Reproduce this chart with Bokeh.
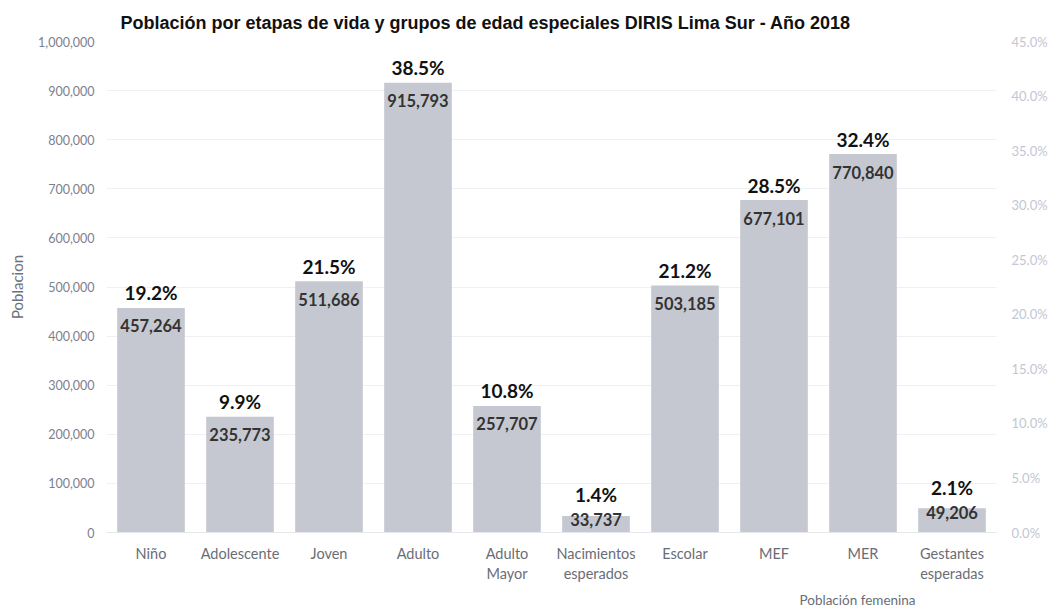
from bokeh.plotting import figure
from bokeh.models import (ColumnDataSource, Range1d, LinearAxis,
                          NumeralTickFormatter, FixedTicker, Title)
from bokeh.embed import file_html
from bokeh.resources import INLINE
from bokeh.core.properties import value

categories = ["Niño", "Adolescente", "Joven", "Adulto", "Adulto Mayor",
              "Nacimientos esperados", "Escolar", "MEF", "MER", "Gestantes esperadas"]
poblacion = [457264, 235773, 511686, 915793, 257707, 33737, 503185, 677101, 770840, 49206]
porcentaje = [19.2, 9.9, 21.5, 38.5, 10.8, 1.4, 21.2, 28.5, 32.4, 2.1]
left_ticks = [0, 100000, 200000, 300000, 400000, 500000, 600000, 700000, 800000, 900000, 1000000]
right_ticks = [0.0, 0.05, 0.10, 0.15, 0.20, 0.25, 0.30, 0.35, 0.40, 0.45]
title = "Población por etapas de vida y grupos de edad especiales DIRIS Lima Sur - Año 2018"
y_label = "Poblacion"
group_label = "Población femenina"

FONT = "Lato"
n = len(categories)
idx = list(range(n))

src = ColumnDataSource(dict(
    x=idx,
    v=poblacion,
    vtxt=[f"{x:,}" for x in poblacion],
    ptxt=[f"{x:.1f}%" for x in porcentaje],
    voff=[18 if x > 100000 else 4 for x in poblacion],
    poff=[-15 if x > 100000 else -21 for x in poblacion],
))

W, H = 1051, 612
p = figure(x_range=Range1d(-0.5, n - 0.5), y_range=Range1d(0, 1000000), width=W, height=H,
           output_backend="svg", toolbar_location=None,
           min_border_left=106, min_border_right=55, min_border_top=41, min_border_bottom=80)
p.outline_line_color = None
p.background_fill_color = "white"

p.vbar(x="x", top="v", width=0.76, source=src, fill_color="#c6c8d1", line_color=None)

p.text(x="x", y="v", text="vtxt", source=src, y_offset="voff",
       text_align="center", text_baseline="middle",
       text_font=value(FONT), text_font_style="bold", text_font_size="16.5px", text_color="#333333")
p.text(x="x", y="v", text="ptxt", source=src, y_offset="poff",
       text_align="center", text_baseline="middle",
       text_font=value(FONT), text_font_style="bold", text_font_size="19px", text_color="#111111")

# left axis
ax = p.yaxis[0]
ax.ticker = FixedTicker(ticks=left_ticks)
ax.formatter = NumeralTickFormatter(format="0,0")
ax.axis_line_color = None
ax.major_tick_line_color = None
ax.minor_tick_line_color = None
ax.major_tick_out = 0
ax.minor_tick_out = 0
ax.major_label_text_font = FONT
ax.major_label_text_font_size = "12.5px"
ax.major_label_text_color = "#7d808c"
ax.major_label_standoff = 12
ax.axis_label = y_label
ax.axis_label_text_font = FONT
ax.axis_label_text_font_style = "normal"
ax.axis_label_text_font_size = "15px"
ax.axis_label_text_color = "#6d707a"
ax.axis_label_standoff = 9

# right axis
p.extra_y_ranges = {"pct": Range1d(0, 0.45)}
rax = LinearAxis(y_range_name="pct", ticker=FixedTicker(ticks=right_ticks),
                 formatter=NumeralTickFormatter(format="0.0%"))
rax.axis_line_color = None
rax.major_tick_line_color = None
rax.minor_tick_line_color = None
rax.major_tick_out = 0
rax.minor_tick_out = 0
rax.major_label_text_font = FONT
rax.major_label_text_font_size = "13px"
rax.major_label_text_color = "#c3c6d3"
rax.major_label_standoff = 15
p.add_layout(rax, "right")

# x axis: first line of each category
xa = p.xaxis[0]
xa.ticker = FixedTicker(ticks=idx)
xa.axis_line_color = "#e6e7ea"
xa.major_tick_line_color = None
xa.minor_tick_line_color = None
xa.major_tick_out = 0
xa.minor_tick_out = 0
xa.major_label_text_font = FONT
xa.major_label_text_font_size = "14.5px"
xa.major_label_text_color = "#6a6d76"
xa.major_label_standoff = 12
xa.major_label_overrides = {i: c.split(" ")[0] for i, c in zip(idx, categories)}

# second line of each two-word category
xa2 = LinearAxis(ticker=FixedTicker(ticks=idx))
xa2.axis_line_color = None
xa2.major_tick_line_color = None
xa2.minor_tick_line_color = None
xa2.major_tick_out = 0
xa2.minor_tick_out = 0
xa2.major_label_text_font = FONT
xa2.major_label_text_font_size = "14.5px"
xa2.major_label_text_color = "#6a6d76"
xa2.major_label_standoff = 0
xa2.major_label_overrides = {i: (c.split(" ")[1] if " " in c else " ") for i, c in zip(idx, categories)}
p.add_layout(xa2, "below")

p.xgrid.grid_line_color = None
p.ygrid.grid_line_color = "#eef0f3"

p.title.text = title
p.title.text_font = "Liberation Sans"
p.title.text_font_style = "bold"
p.title.text_font_size = "18px"
p.title.text_color = "#111111"
p.title.align = "left"
p.title.offset = 14
p.title.standoff = 18

sub = Title(text=group_label, align="left", offset=693, text_font=FONT,
            text_font_style="normal", text_font_size="13.5px", text_color="#6a6d76",
            standoff=10)
p.add_layout(sub, "below")

open("out.html", "w").write(file_html(p, INLINE))
